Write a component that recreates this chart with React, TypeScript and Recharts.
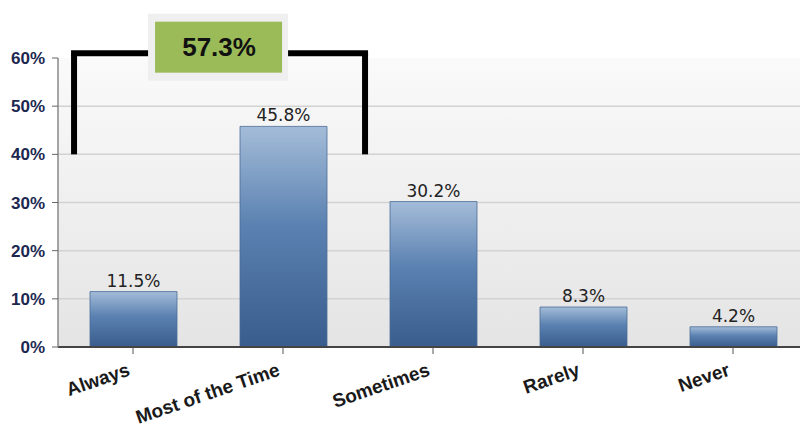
import { BarChart, Bar, XAxis, YAxis, CartesianGrid, LabelList, ReferenceLine, ReferenceDot, ScatterChart, Scatter } from "recharts";

const categories = ["Always", "Most of the Time", "Sometimes", "Rarely", "Never"];
const shares = [11.5, 45.8, 30.2, 8.3, 4.2];
const yTicks = [0, 10, 20, 30, 40, 50, 60];

// bracket over the first two answers, placed on a 0..5 position axis (one unit per category)
const bracketLeft = 0.107;
const bracketRight = 2.047;
const bracketTop = 61;
const bracketFoot = 40;
const boxCenter = 1.067;
const combined = +(shares[0] + shares[1]).toFixed(1);

const data = categories.map((name, i) => ({ name, value: shares[i] }));

const W = 820;
const H = 432;
const margin = { top: 58, right: 12, left: 0, bottom: 15 };
const yAxisWidth = 58;
const xAxisHeight = 70;

const XTick = ({ x, y, payload }: any) => (
  <g transform={`translate(${x - 2},${y + 19}) rotate(-19)`}>
    <text
      textAnchor="end"
      fontFamily="'Liberation Sans', Arial, sans-serif"
      fontWeight="bold"
      fontSize={19}
      fill="#1a1a1a"
    >
      {payload.value}
    </text>
  </g>
);

const TotalBox = ({ cx, cy }: any) => (
  <g>
    <rect x={cx - 70} y={cy - 39.5} width={140} height={67} fill="#efefef" />
    <rect x={cx - 63} y={cy - 31.5} width={127} height={51} fill="#9bbb59" />
    <text
      x={cx + 1}
      y={cy + 3}
      textAnchor="middle"
      fontFamily="'Liberation Sans', Arial, sans-serif"
      fontWeight="bold"
      fontSize={26}
      fill="#111"
    >
      {combined}%
    </text>
  </g>
);

export default function App() {
  return (
    <div style={{ position: "relative", width: 800, height: H, overflow: "hidden", background: "#fff" }}>
      <style>{`body{margin:0}`}</style>
      <BarChart width={W} height={H} data={data} margin={margin} barSize={87}>
        <defs>
          <linearGradient id="plotBg" x1="0" y1="0" x2="0" y2="1">
            <stop offset="0" stopColor="#fafafa" />
            <stop offset="1" stopColor="#e4e4e4" />
          </linearGradient>
          <linearGradient id="barFill" x1="0" y1="0" x2="0" y2="1">
            <stop offset="0" stopColor="#a4bcd8" />
            <stop offset="0.45" stopColor="#5a81b1" />
            <stop offset="1" stopColor="#395d8d" />
          </linearGradient>
        </defs>
        <CartesianGrid
          vertical={false}
          horizontalValues={[10, 20, 30, 40, 50]}
          stroke="#d2d2d2"
          strokeWidth={1.5}
          fill="url(#plotBg)"
          fillOpacity={1}
        />
        <XAxis
          dataKey="name"
          height={xAxisHeight}
          tickSize={7}
          tickMargin={2}
          interval={0}
          axisLine={{ stroke: "#444", strokeWidth: 2 }}
          tickLine={{ stroke: "#555" }}
          tick={<XTick />}
        />
        <YAxis
          width={yAxisWidth}
          domain={[0, 60]}
          ticks={yTicks}
          tickFormatter={(v: number) => `${v}%`}
          tickSize={6}
          tickMargin={7}
          axisLine={{ stroke: "#888", strokeWidth: 1.5 }}
          tickLine={{ stroke: "#666" }}
          tick={{
            fill: "#1c2750",
            fontSize: 17,
            fontWeight: "bold",
            fontFamily: "'Liberation Sans', Arial, sans-serif",
          }}
        />
        <Bar dataKey="value" fill="url(#barFill)" stroke="#4a6c98" strokeWidth={0.8} isAnimationActive={false}>
          <LabelList
            dataKey="value"
            position="top"
            offset={5}
            formatter={(v: any) => `${v}%`}
            fill="#222"
            fontSize={17}
            fontFamily="'DejaVu Sans', Verdana, sans-serif"
          />
        </Bar>
      </BarChart>

      {/* overlay with the same plot area, for the bracket and its total */}
      <div style={{ position: "absolute", left: 0, top: 0, pointerEvents: "none" }}>
        <ScatterChart
          width={W}
          height={H}
          margin={{
            top: margin.top,
            right: margin.right,
            left: margin.left + yAxisWidth,
            bottom: margin.bottom + xAxisHeight,
          }}
        >
          <XAxis type="number" dataKey="x" domain={[0, 5]} allowDataOverflow hide />
          <YAxis type="number" dataKey="y" domain={[0, 60]} allowDataOverflow hide />
          <Scatter data={[]} isAnimationActive={false} />
          <ReferenceLine
            segment={[{ x: bracketLeft, y: bracketFoot }, { x: bracketLeft, y: bracketTop }]}
            stroke="#000"
            strokeWidth={6}
            ifOverflow="visible"
          />
          <ReferenceLine
            segment={[{ x: bracketRight, y: bracketFoot }, { x: bracketRight, y: bracketTop }]}
            stroke="#000"
            strokeWidth={6}
            ifOverflow="visible"
          />
          <ReferenceLine
            segment={[{ x: bracketLeft, y: bracketTop }, { x: bracketRight, y: bracketTop }]}
            stroke="#000"
            strokeWidth={6}
            strokeLinecap="square"
            ifOverflow="visible"
          />
          <ReferenceDot x={boxCenter} y={bracketTop} ifOverflow="visible" shape={<TotalBox />} />
        </ScatterChart>
      </div>
    </div>
  );
}
